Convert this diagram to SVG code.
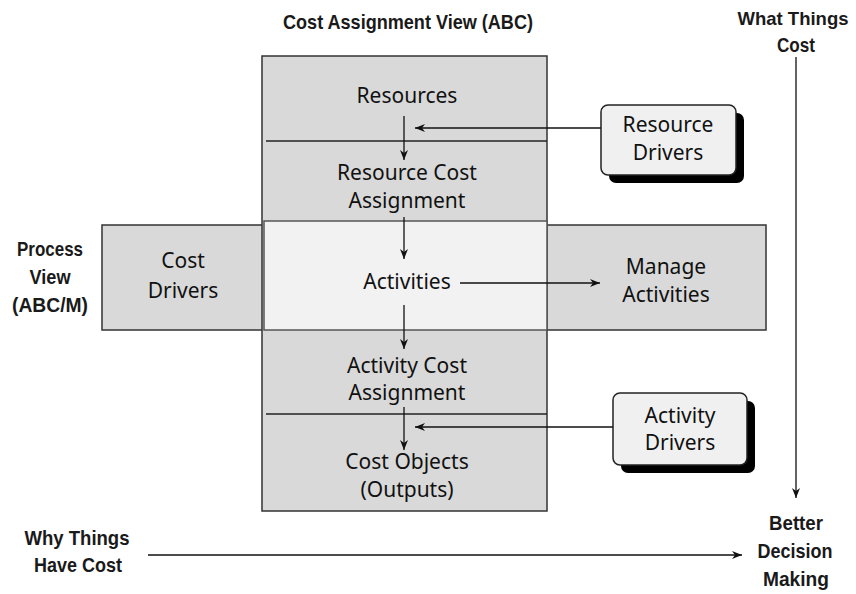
<svg xmlns="http://www.w3.org/2000/svg" width="856" height="594" viewBox="0 0 856 594">
<defs>
<marker id="ah" viewBox="0 0 10 10" refX="10" refY="5" markerWidth="10" markerHeight="10" markerUnits="userSpaceOnUse" orient="auto">
<path d="M0,1 L10,5 L0,9 L3,5 z" fill="#111"/>
</marker>
<style>
.box{fill:#d9d9d9;stroke:#333;stroke-width:1.5}
.lite{fill:#f2f2f2;stroke:#555;stroke-width:1.5}
.drv{fill:#f0f0f0;stroke:#222;stroke-width:1.5}
.sh{fill:#000}
.t{font-family:"Noto Sans","Open Sans","Liberation Sans",sans-serif;font-size:21px;fill:#111;text-anchor:middle}
.b{font-family:"Liberation Sans",sans-serif;font-weight:bold;font-size:21px;fill:#1a1a1a;text-anchor:middle}
.c{stroke:#111;stroke-width:1.3;fill:none;marker-end:url(#ah)}
.dl{stroke:#222;stroke-width:1.5}
</style>
</defs>
<rect width="856" height="594" fill="#fff"/>
<g id="labels">
<text class="b" x="408" y="29" textLength="250" lengthAdjust="spacingAndGlyphs">Cost Assignment View (ABC)</text>
<text class="b" x="793" y="25" style="font-size:18.5px">What Things</text>
<text class="b" x="796" y="52" textLength="38" lengthAdjust="spacingAndGlyphs">Cost</text>
<text class="b" x="50" y="256" textLength="66" lengthAdjust="spacingAndGlyphs">Process</text>
<text class="b" x="50" y="284" textLength="41" lengthAdjust="spacingAndGlyphs">View</text>
<text class="b" x="50" y="312" textLength="76" lengthAdjust="spacingAndGlyphs">(ABC/M)</text>
<text class="b" x="77" y="545" textLength="105" lengthAdjust="spacingAndGlyphs">Why Things</text>
<text class="b" x="78" y="572" textLength="88" lengthAdjust="spacingAndGlyphs">Have Cost</text>
<text class="b" x="796" y="530" textLength="54" lengthAdjust="spacingAndGlyphs">Better</text>
<text class="b" x="795" y="558" textLength="75" lengthAdjust="spacingAndGlyphs">Decision</text>
<text class="b" x="796" y="586" textLength="66" lengthAdjust="spacingAndGlyphs">Making</text>
</g>
<g id="cost-drivers">
<rect class="box" x="102" y="225" width="162" height="105"/>
<text class="t" x="183" y="268">Cost</text>
<text class="t" x="183" y="298">Drivers</text>
</g>
<g id="manage-activities">
<rect class="box" x="545" y="225" width="221" height="105"/>
<text class="t" x="666" y="274">Manage</text>
<text class="t" x="666" y="302">Activities</text>
</g>
<g id="abc-column">
<rect class="box" x="262" y="56" width="285" height="455"/>
<line class="dl" x1="266" y1="141" x2="547" y2="141"/>
<line class="dl" x1="266" y1="414" x2="547" y2="414"/>
</g>
<g id="resources">
<text class="t" x="407" y="103">Resources</text>
</g>
<g id="resource-cost-assignment">
<text class="t" x="407" y="180">Resource Cost</text>
<text class="t" x="407" y="208">Assignment</text>
</g>
<g id="activities">
<rect class="lite" x="264" y="221" width="283" height="109"/>
<text class="t" x="407" y="289">Activities</text>
</g>
<g id="activity-cost-assignment">
<text class="t" x="407" y="373">Activity Cost</text>
<text class="t" x="407" y="400">Assignment</text>
</g>
<g id="cost-objects">
<text class="t" x="407" y="469">Cost Objects</text>
<text class="t" x="407" y="497">(Outputs)</text>
</g>
<g id="resource-drivers">
<rect class="sh" x="609" y="113" width="135" height="70" rx="7"/>
<rect class="drv" x="601" y="105" width="135" height="70" rx="7"/>
<text class="t" x="668" y="132">Resource</text>
<text class="t" x="668" y="160">Drivers</text>
</g>
<g id="activity-drivers">
<rect class="sh" x="621" y="401" width="134" height="72" rx="7"/>
<rect class="drv" x="613" y="393" width="134" height="72" rx="7"/>
<text class="t" x="680" y="423">Activity</text>
<text class="t" x="680" y="450">Drivers</text>
</g>
<g id="connectors">
<line class="c" x1="404" y1="116" x2="404" y2="160"/>
<line class="c" x1="404" y1="217" x2="404" y2="259"/>
<line class="c" x1="404" y1="305" x2="404" y2="349"/>
<line class="c" x1="404" y1="407" x2="404" y2="450"/>
<line class="c" x1="601" y1="128" x2="415" y2="128"/>
<line class="c" x1="613" y1="427" x2="415" y2="427"/>
<line class="c" x1="460" y1="283" x2="600" y2="283"/>
<line class="c" x1="796" y1="57" x2="796" y2="498"/>
<line class="c" x1="148" y1="555" x2="742" y2="555"/>
</g>
</svg>
